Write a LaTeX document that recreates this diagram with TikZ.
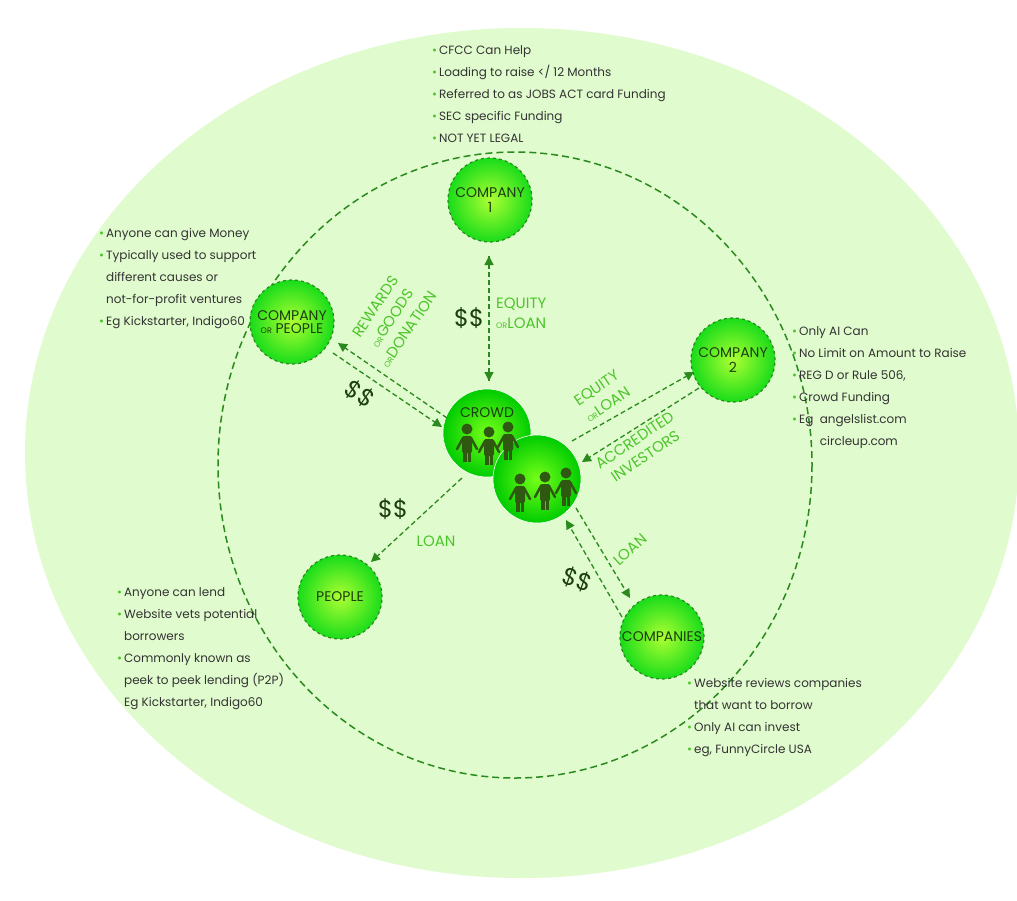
\documentclass[tikz,border=0pt]{standalone}
\usepackage{fontspec}
\setmainfont{Poppins}
\usetikzlibrary{arrows.meta}
\definecolor{bg}{HTML}{E0FBCD}
\definecolor{dg}{HTML}{2A8A1E}
\definecolor{lg}{HTML}{4CC52A}
\definecolor{dk}{HTML}{1C3F10}
\definecolor{tx}{HTML}{333333}
\definecolor{fig}{HTML}{2F5810}
\tikzset{
 x=1pt,y=-1pt,
 ball/.style={circle,minimum size=84pt,inner sep=0pt,inner color=green!40!yellow!80!white,outer color=green!85!black!90!white,draw=dg,dashed,line width=1.2pt,align=center,font=\fontsize{14}{15}\selectfont,text=dk},
 crowd/.style={circle,minimum size=88pt,inner sep=0pt,inner color=green!60!yellow!90!white,outer color=green!80!black,draw=white,line width=0.6pt},
 con/.style={draw=dg,dashed,line width=1.3pt,dash pattern=on 5pt off 3pt},
 arr/.style={-{Triangle[length=9pt,width=9pt]}},
 lab/.style={text=lg,font=\fontsize{15}{17}\selectfont,align=center,inner sep=1pt},
 dol/.style={text=dk,font=\fontsize{24}{26}\selectfont,inner sep=1pt},
 info/.style={text=tx,font=\fontsize{12}{22}\selectfont,align=left,anchor=north west,inner sep=0pt}
}
\newcommand{\bl}{{\color{lg}\textbullet}\,}
\newcommand{\sm}[1]{{\fontsize{8}{9}\selectfont #1}}
\newcommand{\person}[2]{%
 \fill[fig] (#1,#2-13) circle (5.5);
 \fill[fig,rounded corners=2pt] (#1-5,#2-6) rectangle (#1+5,#2+11);
 \fill[fig] (#1-4,#2+8) rectangle (#1-0.5,#2+20);
 \fill[fig] (#1+0.5,#2+8) rectangle (#1+4,#2+20);
 \draw[fig,line width=2.5pt,line cap=round] (#1-4,#2-4) -- (#1-10,#2+7);
 \draw[fig,line width=2.5pt,line cap=round] (#1+4,#2-4) -- (#1+10,#2+7);}
\begin{document}
\begin{tikzpicture}
\useasboundingbox (0,0) rectangle (1017,900);
\fill[white] (0,0) rectangle (1017,900);
\fill[bg] (522,453) ellipse [x radius=497,y radius=425];
\draw[dg,line width=1.5pt,dash pattern=on 7pt off 4pt] (515,465) ellipse [x radius=297,y radius=313];

\node[ball] (c1) at (490,200) {COMPANY\\1};
\node[ball] (cp) at (292,322) {COMPANY\\[-2pt]\sm{OR} PEOPLE};
\node[ball] (c2) at (733,360) {COMPANY\\2};
\node[ball] (pe) at (340,597) {PEOPLE};
\node[ball] (co) at (662,637) {COMPANIES};
\node[crowd] (cr) at (487,433) {};
\node[crowd] (cr2) at (537,479) {};
\node[text=dk,font=\fontsize{14}{15}\selectfont] (crl) at (487,413) {CROWD};
\person{467}{442}\person{489}{445}\person{508}{440}
\person{520}{492}\person{545}{490}\person{566}{486}

% connectors
\coordinate (a1) at (489,256); \coordinate (a2) at (489,381);
\draw[con,arr] (a2) -- (a1);
\draw[con,arr] (a1) -- (a2);
\coordinate (b1) at (447,418); \coordinate (b2) at (338,343);
\coordinate (b3) at (333,353); \coordinate (b4) at (442,427);
\draw[con,arr] (b1) -- (b2);
\draw[con,arr] (b3) -- (b4);
\coordinate (d1) at (572,441); \coordinate (d2) at (694,372);
\coordinate (d3) at (699,388); \coordinate (d4) at (582,462);
\draw[con,arr] (d1) -- (d2);
\draw[con,arr] (d3) -- (d4);
\coordinate (e1) at (462,478); \coordinate (e2) at (371,562);
\draw[con,arr] (e1) -- (e2);
\coordinate (f1) at (622,617); \coordinate (f2) at (566,520);
\coordinate (f3) at (576,508); \coordinate (f4) at (630,598);
\draw[con,arr] (f1) -- (f2);
\draw[con,arr] (f3) -- (f4);

% labels
\node[dol] at (469,318) {\$\$};
\node[lab,align=left,anchor=west] at (495,313) {EQUITY\\[3pt]\sm{OR}LOAN};
\node[lab,rotate=56] at (392,318) {REWARDS\\[3pt]\sm{OR}GOODS\\[3pt]\sm{OR}DONATION};
\node[dol,rotate=-35] at (360,394) {\$\$};
\node[dol] at (393,509) {\$\$};
\node[lab] at (436,541) {LOAN};
\node[lab,rotate=34] at (602,396) {EQUITY\\[3pt]\sm{OR}LOAN};
\node[lab,rotate=34] at (640,448) {ACCREDITED\\[2pt]INVESTORS};
\node[lab,rotate=42] at (630,550) {LOAN};
\node[dol,rotate=-20] at (577,580) {\$\$};

% info blocks
\node[info] at (432,45) {\bl CFCC Can Help\\\bl Loading to raise </ 12 Months\\\bl Referred to as JOBS ACT card Funding\\\bl SEC specific Funding\\\bl NOT YET LEGAL};
\node[info] at (99,228) {\bl Anyone can give Money\\\bl Typically used to support\\\phantom{\bl}different causes or\\\phantom{\bl}not-for-profit ventures\\\bl Eg Kickstarter, Indigo60};
\node[info] at (792,326) {\bl Only AI Can\\\bl No Limit on Amount to Raise\\\bl REG D or Rule 506,\\\bl Crowd Funding\\\bl Eg\ \ angelslist.com\\\phantom{\bl Eg\ \ }circleup.com};
\node[info] at (117,587) {\bl Anyone can lend\\\bl Website vets potential\\\phantom{\bl}borrowers\\\bl Commonly known as\\\phantom{\bl}peek to peek lending (P2P)\\\phantom{\bl}Eg Kickstarter, Indigo60};
\node[info] at (687,678) {\bl Website reviews companies\\\phantom{\bl}that want to borrow\\\bl Only AI can invest\\\bl eg, FunnyCircle USA};
\end{tikzpicture}
\end{document}
